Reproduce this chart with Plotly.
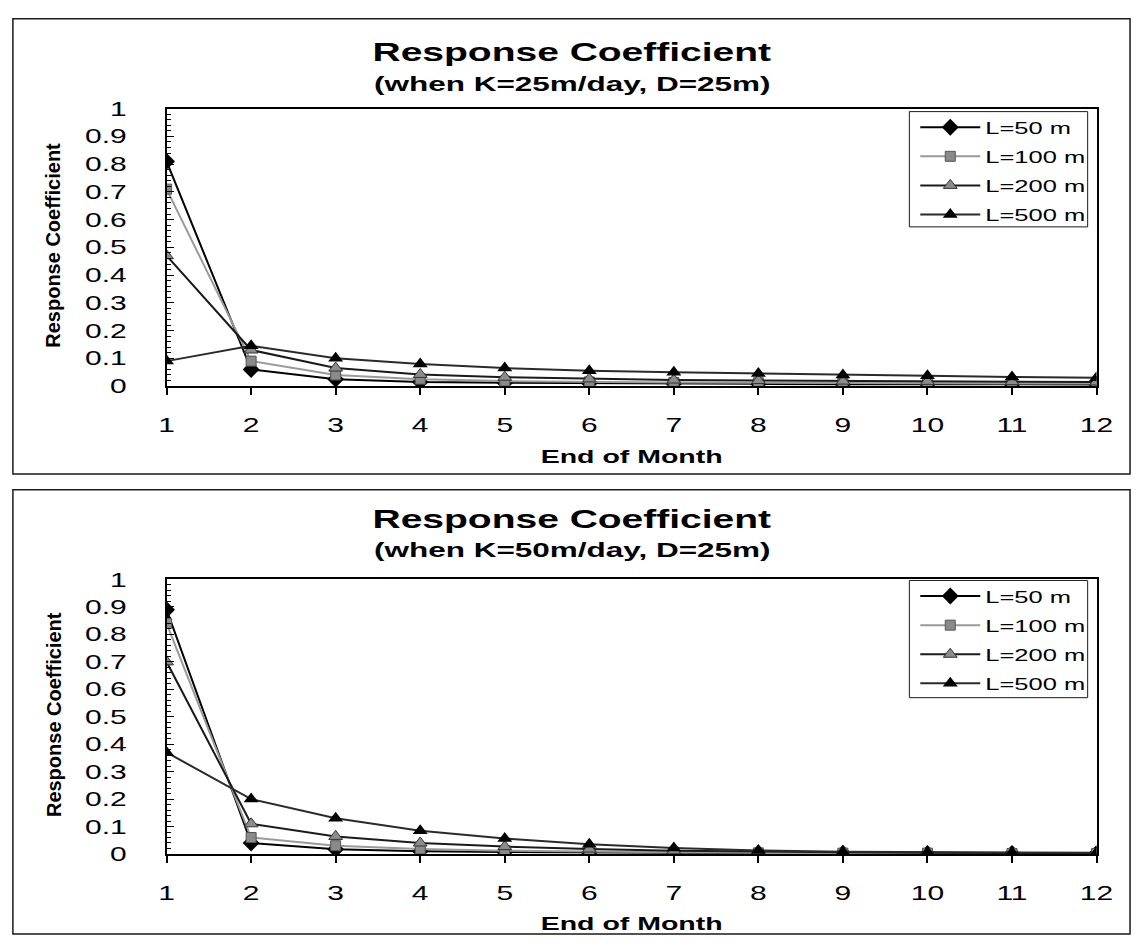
import plotly.graph_objects as go

# ---- data -------------------------------------------------------------
months = list(range(1, 13))
series_names = ["L=50 m", "L=100 m", "L=200 m", "L=500 m"]

# K = 25 m/day, D = 25 m
k25_L50 = [0.81, 0.06, 0.025, 0.015, 0.012, 0.010, 0.009, 0.008, 0.007, 0.007, 0.006, 0.006]
k25_L100 = [0.71, 0.09, 0.040, 0.025, 0.018, 0.015, 0.013, 0.012, 0.011, 0.010, 0.010, 0.009]
k25_L200 = [0.47, 0.13, 0.065, 0.042, 0.032, 0.026, 0.022, 0.020, 0.018, 0.017, 0.016, 0.015]
k25_L500 = [0.09, 0.145, 0.100, 0.080, 0.065, 0.055, 0.050, 0.045, 0.040, 0.037, 0.033, 0.030]

# K = 50 m/day, D = 25 m
k50_L50 = [0.89, 0.04, 0.017, 0.010, 0.007, 0.005, 0.004, 0.003, 0.003, 0.002, 0.002, 0.002]
k50_L100 = [0.84, 0.06, 0.030, 0.018, 0.012, 0.008, 0.006, 0.004, 0.003, 0.003, 0.002, 0.002]
k50_L200 = [0.70, 0.11, 0.064, 0.040, 0.027, 0.018, 0.012, 0.008, 0.006, 0.004, 0.003, 0.003]
k50_L500 = [0.37, 0.20, 0.130, 0.085, 0.056, 0.035, 0.022, 0.013, 0.008, 0.006, 0.005, 0.004]

panel_titles = ["Response Coefficient", "Response Coefficient"]
panel_subtitles = ["(when K=25m/day, D=25m)", "(when K=50m/day, D=25m)"]
x_title = "End of Month"
y_title = "Response Coefficient"

panels = [
    [k25_L50, k25_L100, k25_L200, k25_L500],
    [k50_L50, k50_L100, k50_L200, k50_L500],
]

# ---- styling ----------------------------------------------------------
W, H = 1143, 948
FONT = "Liberation Sans, Arial, Helvetica, sans-serif"


def fx(x):
    return x / W


def fy(y):
    return 1 - y / H


styles = [
    dict(line=dict(color="#000000", width=2),
         marker=dict(symbol="diamond", size=13, color="#000000")),
    dict(line=dict(color="#9a9a9a", width=2),
         marker=dict(symbol="square", size=10, color="#8a8a8a",
                     line=dict(color="#555555", width=1))),
    dict(line=dict(color="#1a1a1a", width=2),
         marker=dict(symbol="triangle-up", size=12, color="#8c8c8c",
                     line=dict(color="#333333", width=1))),
    dict(line=dict(color="#2a2a2a", width=2),
         marker=dict(symbol="triangle-up", size=13, color="#000000")),
]

# pixel geometry of each panel: frame, plot area, legend box
geom = [
    dict(frame=(7, 8, 1141, 474), plot=(163, 100, 1107, 384),
         title_y=42, sub_y=74, xt_y=456, legend=(917, 103, 1098, 221)),
    dict(frame=(7, 490, 1141, 945), plot=(163, 582, 1107, 863),
         title_y=520, sub_y=551, xt_y=934, legend=(917, 583, 1098, 703)),
]

fig = go.Figure()
layout = dict(
    width=W, height=H,
    margin=dict(l=0, r=0, t=0, b=0),
    paper_bgcolor="white", plot_bgcolor="white",
    font=dict(family=FONT, color="black"),
    showlegend=True,
    shapes=[], annotations=[],
)

for p, (values, g) in enumerate(zip(panels, geom)):
    sfx = "" if p == 0 else str(p + 1)
    xa, ya = "x" + sfx, "y" + sfx
    leg = "legend" + sfx
    for i, (name, vals, st) in enumerate(zip(series_names, values, styles)):
        fig.add_trace(go.Scatter(
            x=months, y=vals, name=name, mode="lines+markers",
            xaxis=xa, yaxis=ya, legend=leg, legendgroup="%s_%d" % (leg, i),
            line=st["line"], marker=st["marker"], hoverinfo="skip",
        ))

    x0, y0, x1, y1 = g["plot"]
    layout["xaxis" + sfx] = dict(
        domain=[fx(x0), fx(x1)], anchor=ya, range=[1, 12],
        tickmode="linear", tick0=1, dtick=1,
        ticks="outside", ticklen=7, tickwidth=1.5, tickcolor="black",
        showline=True, linecolor="black", linewidth=1.5, mirror=True,
        showgrid=False, zeroline=False,
        tickfont=dict(size=20, family=FONT), ticklabelstandoff=13,
    )
    layout["yaxis" + sfx] = dict(
        domain=[fy(y1), fy(y0)], anchor=xa, range=[0, 1],
        tickmode="linear", tick0=0, dtick=0.1,
        ticks="inside", ticklen=8, tickwidth=1.2, tickcolor="black",
        minor=dict(dtick=0.02, ticks="inside", ticklen=5, tickwidth=1,
                   tickcolor="black", showgrid=False),
        showline=True, linecolor="black", linewidth=1.5, mirror=True,
        showgrid=False, zeroline=False,
        tickfont=dict(size=20, family=FONT), ticklabelstandoff=34,
    )

    lx0, ly0, lx1, ly1 = g["legend"]
    layout[leg] = dict(
        x=fx(lx0 + 6), y=fy(ly0 - 2), xanchor="left", yanchor="top",
        bgcolor="rgba(0,0,0,0)", borderwidth=0,
        font=dict(size=17, family=FONT), itemwidth=60,
        tracegroupgap=4,
    )

    fx0, fy0, fx1, fy1 = g["frame"]
    layout["shapes"] += [
        dict(type="rect", xref="paper", yref="paper",
             x0=fx(fx0), y0=fy(fy1), x1=fx(fx1), y1=fy(fy0),
             line=dict(color="#1a1a1a", width=1.5), layer="below"),
        dict(type="rect", xref="paper", yref="paper",
             x0=fx(lx0), y0=fy(ly1), x1=fx(lx1), y1=fy(ly0),
             line=dict(color="#1a1a1a", width=1), fillcolor="white",
             layer="below"),
    ]

    layout["annotations"] += [
        dict(text="<b>%s</b>" % panel_titles[p], xref="paper", yref="paper",
             x=fx(575), y=fy(g["title_y"]), xanchor="center", yanchor="middle",
             showarrow=False, font=dict(size=26, family=FONT)),
        dict(text="<b>%s</b>" % panel_subtitles[p], xref="paper", yref="paper",
             x=fx(575), y=fy(g["sub_y"]), xanchor="center", yanchor="middle",
             showarrow=False, font=dict(size=21, family=FONT)),
        dict(text="<b>%s</b>" % x_title, xref="paper", yref="paper",
             x=fx((x0 + x1) / 2), y=fy(g["xt_y"]), xanchor="center",
             yanchor="middle", showarrow=False, font=dict(size=19, family=FONT)),
        dict(text="<b>%s</b>" % y_title, xref="paper", yref="paper",
             x=fx(48), y=fy((y0 + y1) / 2 - 2), xanchor="center",
             yanchor="middle", textangle=-90, showarrow=False,
             font=dict(size=20, family=FONT)),
    ]

fig.update_layout(**layout)

# Page without body margin, and wide lettering: every unrotated text is
# widened horizontally about its own anchor point.
widen_js = """
(function(){
  document.body.style.margin = '0';
  var gd = document.getElementById('{plot_id}');
  var SX = 1.5;
  function rotated(el){
    while (el && el !== gd) {
      var tr = el.getAttribute && el.getAttribute('transform');
      if (tr) {
        var m = tr.match(/rotate\\(\\s*([-\\d.eE]+)/);
        if (m && Math.abs(parseFloat(m[1])) > 0.01) return true;
      }
      el = el.parentNode;
    }
    return false;
  }
  function widen(){
    gd.querySelectorAll('[clip-path*="legend"]').forEach(function(e){
      e.removeAttribute('clip-path');
    });
    gd.querySelectorAll('text').forEach(function(t){
      if (rotated(t)) return;
      var cur = t.getAttribute('transform') || '';
      if (t.hasAttribute('data-sx') && t.getAttribute('data-sx') === cur) return;
      var bb;
      try { bb = t.getBBox(); } catch (e) { return; }
      if (!bb || !bb.width) return;
      var anc = t.getAttribute('text-anchor') || 'start';
      var ax = anc === 'middle' ? bb.x + bb.width / 2 :
               (anc === 'end' ? bb.x + bb.width : bb.x);
      var nt = (cur + ' translate(' + ax + ',0) scale(' + SX + ',1) translate(' + (-ax) + ',0)').trim();
      t.setAttribute('transform', nt);
      t.setAttribute('data-sx', nt);
    });
  }
  widen();
  gd.on('plotly_afterplot', widen);
})();
"""

fig.write_html("out.html", post_script=widen_js,
               config={"displayModeBar": False})
